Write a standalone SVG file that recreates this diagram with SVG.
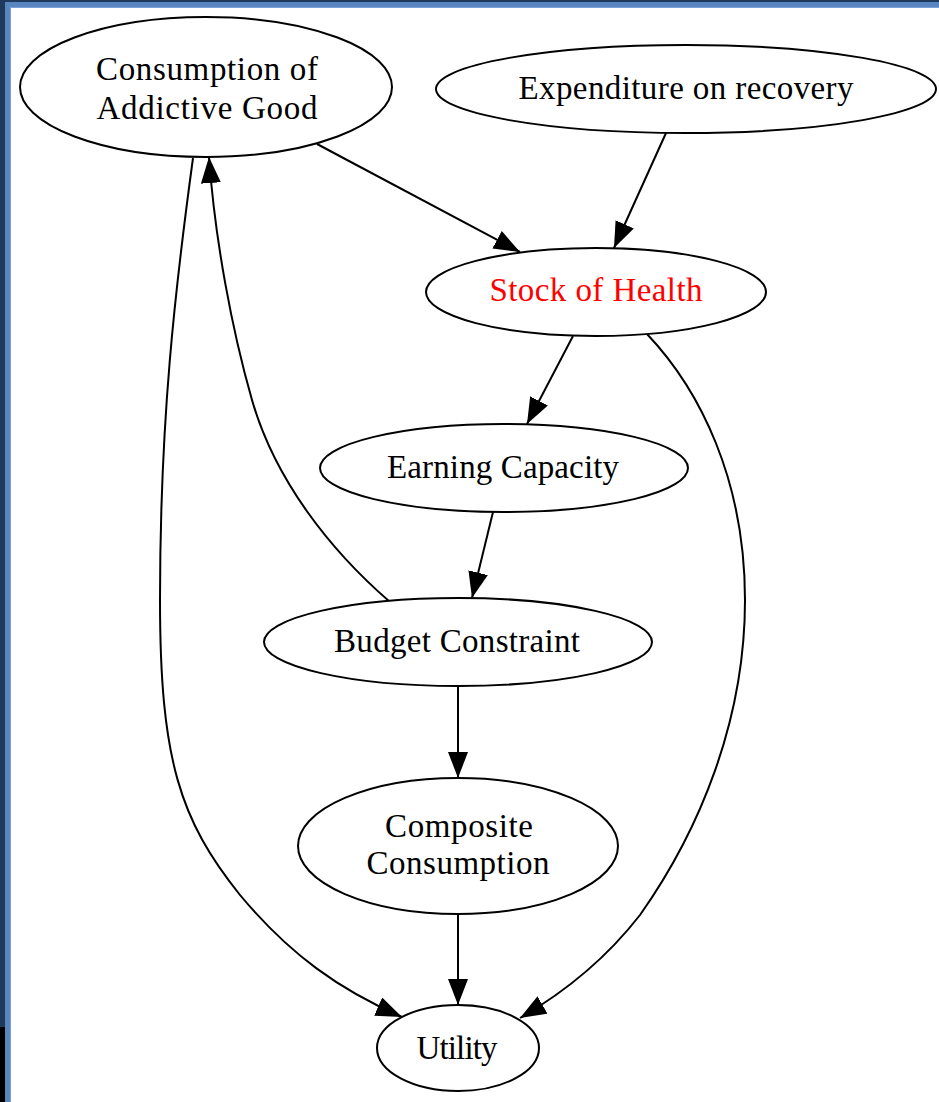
<svg xmlns="http://www.w3.org/2000/svg" width="939" height="1102" viewBox="0 0 939 1102">
<style>
.node ellipse{fill:#fff;stroke:#000;stroke-width:2}
.node text{font-family:"Liberation Serif","Times New Roman",serif;font-size:33px;fill:#000;text-anchor:middle}
.edge{fill:none;stroke:#000;stroke-width:2;marker-end:url(#ah)}
</style>
<defs>
<marker id="ah" markerUnits="userSpaceOnUse" markerWidth="28" markerHeight="22" refX="26" refY="10" orient="auto">
<path d="M0,0 L26,10 L0,20 z" fill="#000"/>
</marker>
</defs>
<rect x="0" y="0" width="939" height="1102" fill="#1f3a5c"/>
<rect x="5" y="2" width="934" height="1100" fill="#5a86c0"/>
<rect x="10" y="7" width="929" height="1095" fill="#7aa3da"/>
<rect x="11" y="8" width="928" height="1094" fill="#fff"/>
<rect x="0" y="1027" width="5" height="75" fill="#000"/>
<g id="connectors">
<path class="edge" d="M317,144 L520,252"/>
<path class="edge" d="M666,133 L614,248"/>
<path class="edge" d="M573,336 L527,424"/>
<path class="edge" d="M493,512 L472,598"/>
<path class="edge" d="M390,602 C330,550 275,480 252,400 C232,330 215,240 209,157"/>
<path class="edge" d="M458,686 L458,778"/>
<path class="edge" d="M458,914 L458,1005"/>
<path class="edge" d="M193,158 C175,290 160,420 160,600 C160,760 180,820 240,895 C290,955 340,990 402,1017"/>
<path class="edge" d="M647,334 C700,390 745,480 745,600 C745,720 700,830 640,915 C605,960 565,992 520,1018"/>
</g>
<g id="consumption_addictive" class="node">
<ellipse cx="206" cy="87" rx="186" ry="70"/>
<text x="207" y="80" textLength="222" lengthAdjust="spacing">Consumption of</text>
<text x="207" y="119" textLength="221" lengthAdjust="spacing">Addictive Good</text>
</g>
<g id="expenditure" class="node">
<ellipse cx="686" cy="89" rx="250" ry="44"/>
<text x="686" y="99" textLength="335" lengthAdjust="spacing">Expenditure on recovery</text>
</g>
<g id="stock_health" class="node">
<ellipse cx="596" cy="292" rx="170" ry="44"/>
<text x="596" y="301" textLength="213" lengthAdjust="spacing" style="fill:#ff0000">Stock of Health</text>
</g>
<g id="earning" class="node">
<ellipse cx="504" cy="468" rx="184" ry="44"/>
<text x="503" y="478" textLength="232" lengthAdjust="spacing">Earning Capacity</text>
</g>
<g id="budget" class="node">
<ellipse cx="458" cy="642" rx="194" ry="44"/>
<text x="457" y="652" textLength="246" lengthAdjust="spacing">Budget Constraint</text>
</g>
<g id="composite" class="node">
<ellipse cx="458" cy="846" rx="160" ry="68"/>
<text x="459" y="837" textLength="148" lengthAdjust="spacing">Composite</text>
<text x="458" y="874" textLength="183" lengthAdjust="spacing">Consumption</text>
</g>
<g id="utility" class="node">
<ellipse cx="458" cy="1048" rx="81" ry="43"/>
<text x="457" y="1059" textLength="81" lengthAdjust="spacing">Utility</text>
</g>
</svg>
